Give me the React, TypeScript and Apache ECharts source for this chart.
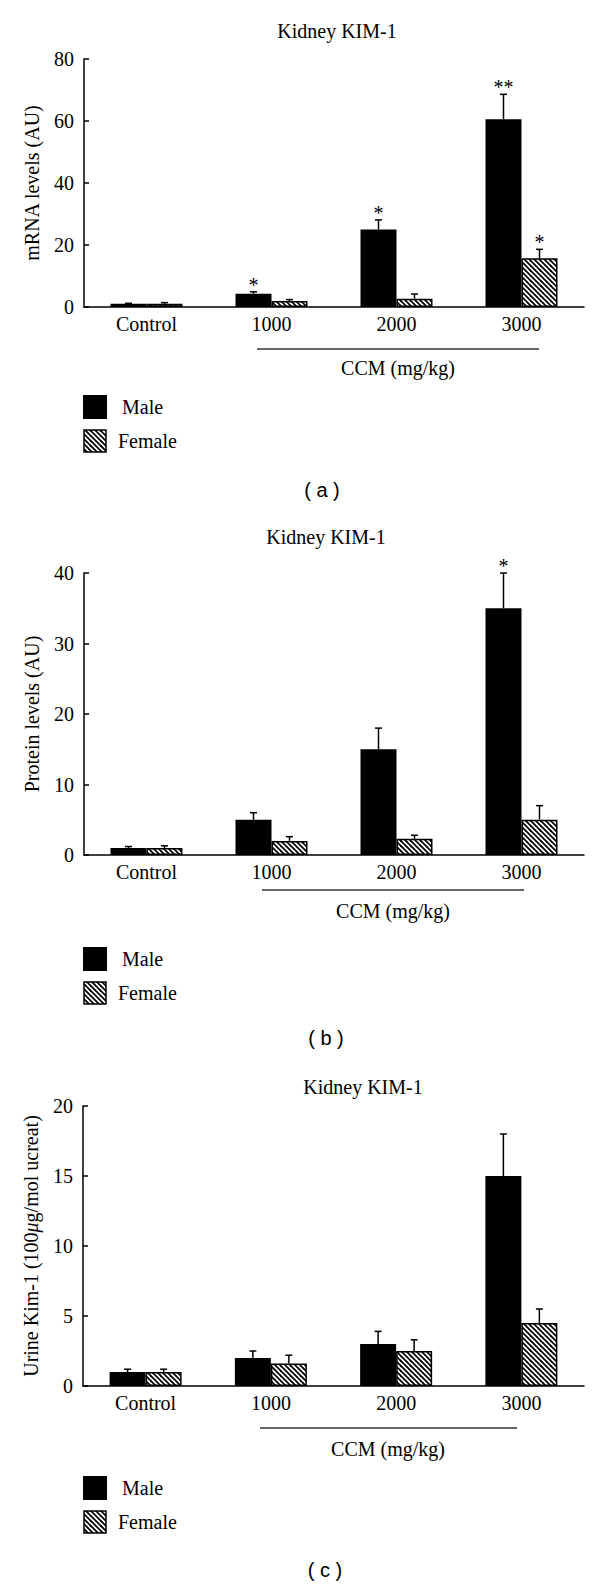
import React, { useEffect, useRef } from "react";
import * as echarts from "echarts";

const categories = ["Control", "1000", "2000", "3000"];

// Panel (a) mRNA levels
const mrnaMale = [1.05, 4.3, 25.0, 60.6];
const mrnaMaleUpper = [1.2, 4.9, 28.1, 68.6];
const mrnaFemale = [1.05, 1.9, 2.7, 15.7];
const mrnaFemaleUpper = [1.4, 2.4, 4.2, 18.6];
const mrnaMaleSig = ["", "*", "*", "**"];
const mrnaFemaleSig = ["", "", "", "*"];

// Panel (b) protein levels
const proteinMale = [1.0, 5.0, 15.0, 35.0];
const proteinMaleUpper = [1.2, 6.0, 18.0, 40.0];
const proteinFemale = [1.0, 2.0, 2.3, 5.0];
const proteinFemaleUpper = [1.3, 2.6, 2.8, 7.0];
const proteinMaleSig = ["", "", "", "*"];
const proteinFemaleSig = ["", "", "", ""];

// Panel (c) urine Kim-1
const urineMale = [1.0, 2.0, 3.0, 15.0];
const urineMaleUpper = [1.2, 2.5, 3.9, 18.0];
const urineFemale = [1.0, 1.6, 2.5, 4.5];
const urineFemaleUpper = [1.2, 2.2, 3.3, 5.5];
const urineMaleSig = ["", "", "", ""];
const urineFemaleSig = ["", "", "", ""];

const yMax = [80, 40, 20];
const yInterval = [20, 10, 5];
const yNames = ["mRNA levels (AU)", "Protein levels (AU)", "Urine Kim-1 (100{mu|μ}g/mol ucreat)"];
const titles = ["Kidney KIM-1", "Kidney KIM-1", "Kidney KIM-1"];
const panelLabels = ["( a )", "( b )", "( c )"];
const xName = "CCM (mg/kg)";
const legendNames = ["Male", "Female"];

const SERIF = "'Liberation Serif', 'Times New Roman', serif";
const SANS = "'Liberation Sans', Arial, sans-serif";
const FS = 20;

function makeHatch() {
  const c = document.createElement("canvas");
  c.width = 10;
  c.height = 10;
  const ctx = c.getContext("2d")!;
  ctx.fillStyle = "#fff";
  ctx.fillRect(0, 0, 10, 10);
  ctx.strokeStyle = "#000";
  ctx.lineWidth = 1.8;
  for (let k = -15; k <= 15; k += 5) {
    ctx.beginPath();
    ctx.moveTo(k - 5, -5);
    ctx.lineTo(k + 15, 15);
    ctx.stroke();
  }
  return c;
}

export default function App() {
  const ref = useRef<HTMLDivElement>(null);

  useEffect(() => {
    document.body.style.margin = "0";
    if (!ref.current) return;
    const chart = echarts.init(ref.current, null, { renderer: "svg" });
    const hatch = { image: makeHatch(), repeat: "repeat" } as any;

    const grids = [
      { left: 84, top: 59, width: 500, height: 248 },
      { left: 84, top: 573, width: 500, height: 282 },
      { left: 83, top: 1106, width: 501, height: 280 },
    ];

    const panels = [
      { male: mrnaMale, maleUp: mrnaMaleUpper, female: mrnaFemale, femaleUp: mrnaFemaleUpper, maleSig: mrnaMaleSig, femaleSig: mrnaFemaleSig },
      { male: proteinMale, maleUp: proteinMaleUpper, female: proteinFemale, femaleUp: proteinFemaleUpper, maleSig: proteinMaleSig, femaleSig: proteinFemaleSig },
      { male: urineMale, maleUp: urineMaleUpper, female: urineFemale, femaleUp: urineFemaleUpper, maleSig: urineMaleSig, femaleSig: urineFemaleSig },
    ];

    const BAR_W = 36;

    const errSeries = (idx: number, vals: number[], ups: number[], off: number) => ({
      type: "custom",
      xAxisIndex: idx,
      yAxisIndex: idx,
      z: 5,
      clip: false,
      silent: true,
      data: vals.map((v, i) => [i, ups[i], v]),
      renderItem: (params: any, api: any) => {
        const cat = api.value(0);
        const up = api.value(1);
        const v = api.value(2);
        const p1 = api.coord([cat, v]);
        const p2 = api.coord([cat, up]);
        const x = p1[0] + off;
        const st = { stroke: "#000", lineWidth: 1.5 };
        return {
          type: "group",
          children: [
            { type: "line", shape: { x1: x, y1: p1[1], x2: x, y2: p2[1] }, style: st },
            { type: "line", shape: { x1: x - 3.5, y1: p2[1], x2: x + 3.5, y2: p2[1] }, style: st },
          ],
        };
      },
    });

    const sigSeries = (idx: number, ups: number[], sig: string[], off: number) => ({
      type: "custom",
      xAxisIndex: idx,
      yAxisIndex: idx,
      z: 6,
      clip: false,
      silent: true,
      data: ups.map((u, i) => [i, u]),
      renderItem: (params: any, api: any) => {
        const i = params.dataIndex;
        const p = api.coord([api.value(0), api.value(1)]);
        return {
          type: "text",
          x: p[0] + off,
          y: p[1] - 7,
          style: {
            text: sig[i],
            fill: "#000",
            font: `${FS}px ${SERIF}`,
            align: "center",
            verticalAlign: "middle",
          },
        };
      },
    });

    const series: any[] = [];
    panels.forEach((p, idx) => {
      series.push({
        type: "bar",
        name: legendNames[0],
        xAxisIndex: idx,
        yAxisIndex: idx,
        data: p.male,
        barWidth: BAR_W,
        barGap: "0%",
        itemStyle: { color: "#000" },
        silent: true,
      });
      series.push({
        type: "bar",
        name: legendNames[1],
        xAxisIndex: idx,
        yAxisIndex: idx,
        data: p.female,
        barWidth: BAR_W,
        barGap: "0%",
        itemStyle: { color: hatch, borderColor: "#000", borderWidth: 1.5 },
        silent: true,
      });
      series.push(errSeries(idx, p.male, p.maleUp, -BAR_W / 2));
      series.push(errSeries(idx, p.female, p.femaleUp, BAR_W / 2));
      series.push(sigSeries(idx, p.maleUp, p.maleSig, -BAR_W / 2));
      series.push(sigSeries(idx, p.femaleUp, p.femaleSig, BAR_W / 2));
    });

    const xAxis = grids.map((g, idx) => ({
      type: "category",
      gridIndex: idx,
      data: categories,
      axisLine: { lineStyle: { color: "#000", width: 1.5 } },
      axisTick: { show: false },
      axisLabel: { color: "#000", fontFamily: SERIF, fontSize: FS, margin: 7 },
    }));

    const yAxis = grids.map((g, idx) => ({
      type: "value",
      gridIndex: idx,
      min: 0,
      max: yMax[idx],
      interval: yInterval[idx],
      splitLine: { show: false },
      axisLine: { show: true, lineStyle: { color: "#000", width: 1.5 } },
      axisTick: { show: true, inside: true, length: 5, lineStyle: { color: "#000", width: 1.5 } },
      axisLabel: { color: "#000", fontFamily: SERIF, fontSize: FS, margin: 10 },
      name: yNames[idx],
      nameLocation: "middle",
      nameGap: 42,
      nameTextStyle: {
        color: "#000",
        fontFamily: SERIF,
        fontSize: FS,
        rich: { mu: { fontStyle: "italic", fontFamily: SERIF, fontSize: FS, color: "#000" } },
      },
    }));

    const titleOpts = [
      { x: 337, y: 31 },
      { x: 326, y: 537 },
      { x: 363, y: 1087 },
    ];
    const ccmLines = [
      { x1: 257, x2: 539, y: 349, tx: 398, ty: 368 },
      { x1: 262, x2: 524, y: 890, tx: 393, ty: 911 },
      { x1: 260, x2: 517, y: 1428, tx: 388, ty: 1449 },
    ];
    const legendY = [
      { m: 395, f: 429 },
      { m: 947, f: 981 },
      { m: 1476, f: 1510 },
    ];
    const labelPos = [
      { x: 322, y: 490 },
      { x: 326, y: 1038 },
      { x: 325, y: 1570 },
    ];

    const graphics: any[] = [];
    for (let i = 0; i < 3; i++) {
      graphics.push({
        type: "text",
        x: titleOpts[i].x,
        y: titleOpts[i].y,
        style: { text: titles[i], font: `${FS}px ${SERIF}`, fill: "#000", align: "center", verticalAlign: "middle" },
      });
      const c = ccmLines[i];
      graphics.push({
        type: "line",
        shape: { x1: c.x1, y1: c.y, x2: c.x2, y2: c.y },
        style: { stroke: "#333", lineWidth: 1.3 },
      });
      graphics.push({
        type: "text",
        x: c.tx,
        y: c.ty,
        style: { text: xName, font: `${FS}px ${SERIF}`, fill: "#000", align: "center", verticalAlign: "middle" },
      });
      const l = legendY[i];
      graphics.push({
        type: "rect",
        shape: { x: 83, y: l.m, width: 24, height: 24 },
        style: { fill: "#000" },
      });
      graphics.push({
        type: "text",
        x: 122,
        y: l.m + 12,
        style: { text: legendNames[0], font: `${FS}px ${SERIF}`, fill: "#000", align: "left", verticalAlign: "middle" },
      });
      graphics.push({
        type: "rect",
        shape: { x: 84, y: l.f + 1, width: 22, height: 22 },
        style: { fill: hatch, stroke: "#000", lineWidth: 1.5 },
      });
      graphics.push({
        type: "text",
        x: 118,
        y: l.f + 12,
        style: { text: legendNames[1], font: `${FS}px ${SERIF}`, fill: "#000", align: "left", verticalAlign: "middle" },
      });
      graphics.push({
        type: "text",
        x: labelPos[i].x,
        y: labelPos[i].y,
        style: { text: panelLabels[i], font: `20px ${SANS}`, fill: "#000", align: "center", verticalAlign: "middle" },
      });
    }

    chart.setOption({
      animation: false,
      backgroundColor: "#fff",
      grid: grids,
      xAxis,
      yAxis,
      series,
      graphic: graphics,
    });

    return () => {
      chart.dispose();
    };
  }, []);

  return <div ref={ref} style={{ width: 600, height: 1585 }} />;
}
